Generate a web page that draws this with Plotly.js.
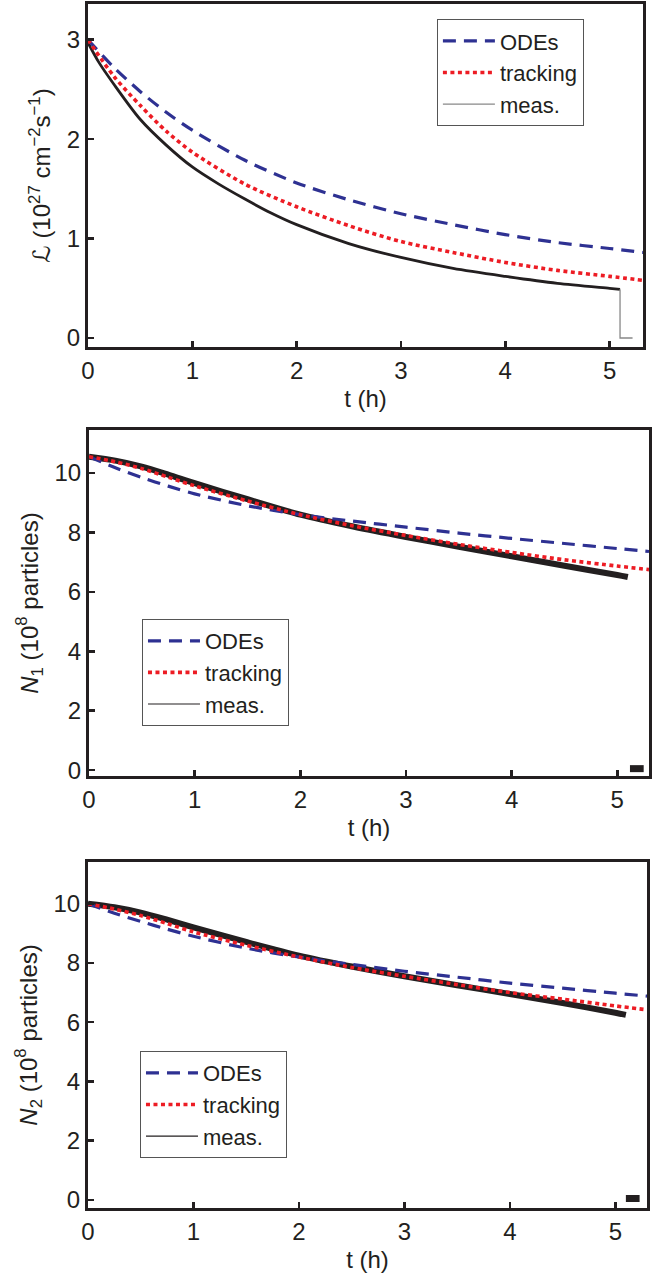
<!DOCTYPE html>
<html><head><meta charset="utf-8">
<script src="https://cdn.plot.ly/plotly-3.0.1.min.js"></script>
<style>html,body{margin:0;padding:0;background:#fff}#g{width:665px;height:1276px}</style>
</head><body><div id="g"></div>
<script>
// ---- Data ----
const tModel = [0, 0.25, 0.5, 0.75, 1, 1.5, 2, 2.5, 3, 3.5, 4, 4.5, 5, 5.32];
const lumODE = [3.0, 2.72, 2.48, 2.27, 2.09, 1.79, 1.56, 1.39, 1.25, 1.14, 1.04, 0.96, 0.90, 0.86];
const lumTrack = [3.0, 2.63, 2.34, 2.08, 1.87, 1.55, 1.32, 1.13, 0.97, 0.86, 0.76, 0.68, 0.62, 0.58];
const tMeas = [0, 0.1, 0.25, 0.5, 0.75, 1, 1.25, 1.5, 1.75, 2, 2.5, 3, 3.5, 4, 4.5, 5, 5.1];
const lumMeas = [2.97, 2.78, 2.55, 2.2, 1.94, 1.72, 1.55, 1.40, 1.26, 1.14, 0.95, 0.81, 0.70, 0.62, 0.55, 0.50, 0.49];
const tLumDrop = [5.1, 5.1, 5.22];
const lumDrop = [0.49, 0.0, 0.0];

const tN = [0, 0.25, 0.5, 0.75, 1, 1.5, 2, 2.5, 3, 3.5, 4, 4.5, 5, 5.3];
const n1ODE = [10.55, 10.18, 9.85, 9.56, 9.3, 8.9, 8.6, 8.38, 8.18, 7.98, 7.8, 7.63, 7.46, 7.36];
const n1Track = [10.55, 10.38, 10.15, 9.86, 9.57, 9.06, 8.6, 8.22, 7.9, 7.6, 7.33, 7.08, 6.87, 6.75];
const tNMeas = [0, 0.25, 0.5, 0.75, 1, 1.5, 2, 2.5, 3, 3.5, 4, 4.5, 5, 5.1];
const n1Meas = [10.55, 10.42, 10.22, 9.95, 9.66, 9.12, 8.6, 8.2, 7.85, 7.52, 7.2, 6.88, 6.57, 6.5];
const tN1Zero = [5.12, 5.25];
const n1Zero = [0.05, 0.05];

const n2ODE = [10.0, 9.68, 9.4, 9.14, 8.9, 8.5, 8.2, 7.95, 7.72, 7.52, 7.32, 7.15, 6.98, 6.88];
const n2Track = [10.0, 9.82, 9.6, 9.33, 9.05, 8.6, 8.2, 7.85, 7.55, 7.27, 7.0, 6.78, 6.55, 6.42];
const n2Meas = [10.0, 9.88, 9.7, 9.46, 9.2, 8.71, 8.25, 7.88, 7.55, 7.25, 6.95, 6.65, 6.32, 6.25];
const tN2Zero = [5.1, 5.23];
const n2Zero = [0.05, 0.05];

const xTicks = [0, 1, 2, 3, 4, 5];
const lumTicks = [0, 1, 2, 3];
const nTicks = [0, 2, 4, 6, 8, 10];
const legendNames = ['ODEs', 'tracking', 'meas.'];

// ---- Styles ----
const BLUE = '#2e3192', RED = '#ed1c24', BLK = '#231f20';
const FONT = 'Liberation Sans, Arial, Helvetica, DejaVu Sans, sans-serif';
const blueLine = {color: BLUE, width: 3.2, dash: '13px,8px', shape: 'spline', smoothing: 0.8};
const redLine = {color: RED, width: 3.6, dash: '4px,3.5px', shape: 'spline', smoothing: 0.8};

function panelTraces(xa, ya, lg, tM, ode, track, tMe, meas, measW, extra, measLegColor) {
  const tr = [];
  tr.push({x: tMe, y: meas, xaxis: xa, yaxis: ya, mode: 'lines', line: {color: BLK, width: measW, shape: 'spline', smoothing: 0.8}, showlegend: false});
  tr.push(extra);
  tr.push({x: tM, y: ode, xaxis: xa, yaxis: ya, mode: 'lines', line: blueLine, showlegend: false});
  tr.push({x: tM, y: track, xaxis: xa, yaxis: ya, mode: 'lines', line: redLine, showlegend: false});
  // legend-only entries
  tr.push({x: [null], y: [null], xaxis: xa, yaxis: ya, mode: 'lines', name: legendNames[0], line: {color: BLUE, width: 3.2, dash: '13px,8px'}, legend: lg});
  tr.push({x: [null], y: [null], xaxis: xa, yaxis: ya, mode: 'lines', name: legendNames[1], line: {color: RED, width: 3.6, dash: '4px,3.5px'}, legend: lg});
  tr.push({x: [null], y: [null], xaxis: xa, yaxis: ya, mode: 'lines', name: legendNames[2], line: {color: measLegColor, width: 1.2}, legend: lg});
  return tr;
}

const traces = [].concat(
  panelTraces('x', 'y', 'legend', tModel, lumODE, lumTrack, tMeas, lumMeas, 2.8,
    {x: tLumDrop, y: lumDrop, xaxis: 'x', yaxis: 'y', mode: 'lines', line: {color: '#888', width: 1.3}, showlegend: false}, '#888'),
  panelTraces('x2', 'y2', 'legend2', tN, n1ODE, n1Track, tNMeas, n1Meas, 6,
    {x: tN1Zero, y: n1Zero, xaxis: 'x2', yaxis: 'y2', mode: 'lines', line: {color: BLK, width: 7}, showlegend: false}, BLK),
  panelTraces('x3', 'y3', 'legend3', tN, n2ODE, n2Track, tNMeas, n2Meas, 6,
    {x: tN2Zero, y: n2Zero, xaxis: 'x3', yaxis: 'y3', mode: 'lines', line: {color: BLK, width: 7}, showlegend: false}, BLK)
);

function xAxis(dom, anchor, range) {
  return {domain: dom, anchor: anchor, range: range, tickvals: xTicks, ticks: 'inside', ticklen: 6, tickwidth: 2.5, tickcolor: BLK,
    showline: true, linewidth: 3, linecolor: BLK, mirror: true, showgrid: false, zeroline: false,
    tickfont: {size: 24, color: BLK}, title: {text: 't (h)', font: {size: 24, color: BLK}, standoff: 8}, automargin: false};
}
function yAxis(dom, anchor, range, ticks, title) {
  return {domain: dom, anchor: anchor, range: range, tickvals: ticks, ticks: 'inside', ticklen: 6, tickwidth: 2.5, tickcolor: BLK,
    showline: true, linewidth: 3, linecolor: BLK, mirror: true, showgrid: false, zeroline: false,
    tickfont: {size: 24, color: BLK}, title: {text: title, font: {size: 24, color: BLK}, standoff: 10}, automargin: false};
}
function legendCfg(x, y) {
  return {x: x, y: y, xanchor: 'left', yanchor: 'top', bgcolor: '#fff', bordercolor: '#555', borderwidth: 1,
    font: {size: 22, color: BLK}, itemwidth: 52, tracegroupgap: 0};
}

const layout = {
  width: 665, height: 1276, margin: {l: 0, r: 0, t: 0, b: 0},
  paper_bgcolor: '#fff', plot_bgcolor: '#fff', font: {family: FONT, color: BLK},
  xaxis: xAxis([0.1323, 0.9669], 'y', [0, 5.32]),
  yaxis: yAxis([0.7281, 0.9969], 'x', [-0.09, 3.36], lumTicks, 'ℒ (10<sup>27</sup> cm<sup>−2</sup>s<sup>−1</sup>)'),
  xaxis2: xAxis([0.1338, 0.9759], 'y2', [0, 5.3]),
  yaxis2: yAxis([0.3918, 0.6630], 'x2', [-0.2, 11.45], nTicks, '<i>N</i><sub>1</sub> (10<sup>8</sup> particles)'),
  xaxis3: xAxis([0.1323, 0.9729], 'y3', [0, 5.3]),
  yaxis3: yAxis([0.0533, 0.3245], 'x3', [-0.27, 11.41], nTicks, '<i>N</i><sub>2</sub> (10<sup>8</sup> particles)'),
  legend: legendCfg(0.657, 0.985),
  legend2: legendCfg(0.2135, 0.5149),
  legend3: legendCfg(0.2105, 0.1763),
  showlegend: true
};

Plotly.newPlot('g', traces, layout, {staticPlot: true, displayModeBar: false});
</script>
</body></html>
